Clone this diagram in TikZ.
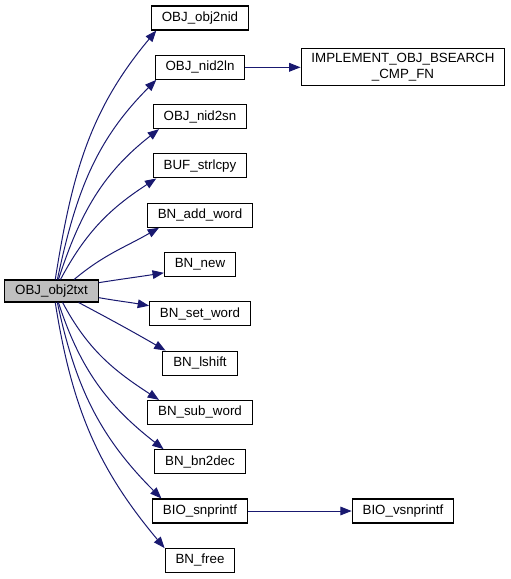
\documentclass[tikz,border=0pt]{standalone}
\usepackage{fontspec}
\setmainfont{Liberation Sans}
\usetikzlibrary{arrows.meta}
\definecolor{callblue}{RGB}{25,25,112}
\definecolor{rootgrey}{RGB}{191,191,191}

\begin{document}
\begin{tikzpicture}[x=0.75pt,y=0.75pt,
  fn/.style={draw,line width=0.8pt,minimum height=18pt,inner xsep=7.8pt,inner ysep=0pt,
    font=\fontsize{10}{11.5}\selectfont},
  call/.style={draw=callblue,line width=0.75pt,-{Triangle[length=8.5pt,width=6.5pt]}}]
\useasboundingbox (0,0) rectangle (511,-579);
\node[fn,fill=rootgrey,minimum height=16.5pt] (txt) at (51.5,-291) {OBJ\_obj2txt};
\foreach \n/\t [count=\i from 0] in {obj2nid/OBJ\_obj2nid,nid2ln/OBJ\_nid2ln,
    nid2sn/OBJ\_nid2sn,strlcpy/BUF\_strlcpy,addword/BN\_add\_word,bnnew/BN\_new,
    setword/BN\_set\_word,lshift/BN\_lshift,subword/BN\_sub\_word,
    bndec/BN\_bn2dec,snprintf/BIO\_snprintf,bnfree/BN\_free}
  \node[fn] (\n) at (200,{-18-49.3*\i}) {\t};
\node[fn,align=center,minimum height=27.75pt] (bsearch) at (403,-67.3)
  {IMPLEMENT\_OBJ\_BSEARCH\\\_CMP\_FN};
\node[fn] (vsnprintf) at (403,-511) {BIO\_vsnprintf};
% calls out of OBJ_obj2txt
\foreach \t/\a/\b/\o/\e in {obj2nid/72/196/81/230,nid2ln/63/196/78/225,
    nid2sn/59/197/72/218,strlcpy/52/196/62/213,addword/27/197/40/210,
    bnnew/10/193/9/189,setword/352/171/350/170,lshift/337/160/332/150,
    subword/314/163/298/147,bndec/301/161/288/142,snprintf/297/162/282/135,
    bnfree/288/161/279/130}
  \draw[call] (txt.\a) to[out=\o,in=\e] (\t.\b);
\draw[call] (nid2ln) -- (bsearch);
\draw[call] (snprintf) -- (vsnprintf);
\end{tikzpicture}
\end{document}
